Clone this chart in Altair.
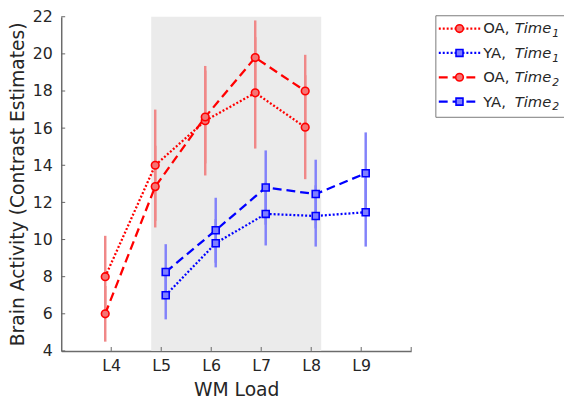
import altair as alt
import pandas as pd

# ---------------- data ----------------
oa_loads = [4, 5, 6, 7, 8]
ya_loads = [5, 6, 7, 8, 9]
oa_t1 = [8.0, 14.0, 16.4, 17.9, 16.05]
oa_t2 = [6.0, 12.85, 16.6, 19.8, 18.0]
ya_t1 = [7.0, 9.8, 11.38, 11.27, 11.47]
ya_t2 = [8.25, 10.5, 12.8, 12.45, 13.57]
oa_t1_err = [2.2, 3.0, 2.95, 3.0, 2.8]
oa_t2_err = [1.5, 2.2, 2.5, 2.0, 1.95]
ya_t1_err = [1.3, 1.3, 1.7, 1.65, 1.85]
ya_t2_err = [1.5, 1.75, 2.0, 1.85, 2.2]
x_ticks = [4, 5, 6, 7, 8, 9]
x_tick_marks = [4, 5, 6, 7, 8, 9, 10]
y_ticks = [4, 6, 8, 10, 12, 14, 16, 18, 20, 22]
shade = {"x0": [4.8], "x1": [8.2], "y0": [4], "y1": [22]}

group_offset = {"OA": -0.12, "YA": 0.09}

rows = []
for group, time, loads, means, errs in [
    ("OA", "1", oa_loads, oa_t1, oa_t1_err),
    ("YA", "1", ya_loads, ya_t1, ya_t1_err),
    ("OA", "2", oa_loads, oa_t2, oa_t2_err),
    ("YA", "2", ya_loads, ya_t2, ya_t2_err),
]:
    for l, m, e in zip(loads, means, errs):
        rows.append(dict(series=f"{group}{time}", group=group, time=time,
                         x=l + group_offset[group], mean=m, lo=m - e, hi=m + e))
df = pd.DataFrame(rows)

# ---------------- styling ----------------
FONT = "DejaVu Sans"
TXT = "#262626"
RED, BLUE = "#ff0000", "#0000ff"
RED_FILL, BLUE_FILL = "#f47474", "#7f7fff"
RED_ERR, BLUE_ERR = "#f08888", "#8282fa"
W, H = 355, 339

X_SC = alt.Scale(domain=[3, 10], nice=False, zero=False)
Y_SC = alt.Scale(domain=[4, 22], nice=False, zero=False)
X_AX = alt.Axis(values=x_ticks, labelExpr="'L' + datum.value", ticks=False, grid=False,
                labelPadding=7, titlePadding=7, labelFontSize=16, titleFontSize=19)
Y_AX = alt.Axis(values=y_ticks, ticks=False, grid=False, labelPadding=9, titlePadding=5,
                labelFontSize=16, titleFontSize=19)
XT = "WM Load"
YT = "Brain Activity (Contrast Estimates)"

is_oa = "datum.group == 'OA'"

shade_layer = alt.Chart(pd.DataFrame(shade)).mark_rect(color="#ebebeb").encode(
    x=alt.X("x0:Q", scale=X_SC, axis=X_AX, title=XT), x2="x1:Q",
    y=alt.Y("y0:Q", scale=Y_SC, axis=Y_AX, title=YT), y2="y1:Q",
)

xtick_layer = alt.Chart(pd.DataFrame({"v": x_tick_marks})).mark_rule(color="#666", strokeWidth=1).encode(
    x=alt.X("v:Q", scale=X_SC, axis=X_AX, title=XT),
    y=alt.value(H), y2=alt.value(H - 4),
)
ytick_layer = alt.Chart(pd.DataFrame({"v": y_ticks})).mark_rule(color="#666", strokeWidth=1).encode(
    y=alt.Y("v:Q", scale=Y_SC, axis=Y_AX, title=YT),
    x=alt.value(0), x2=alt.value(4),
)

err_layer = alt.Chart(df).mark_rule(strokeWidth=2.5).encode(
    x=alt.X("x:Q", scale=X_SC, axis=X_AX, title=XT),
    y=alt.Y("lo:Q", scale=Y_SC, axis=Y_AX, title=YT), y2="hi:Q",
    color=alt.condition(is_oa, alt.value(RED_ERR), alt.value(BLUE_ERR)),
)

line_layer = alt.Chart(df).mark_line(strokeWidth=2.3).encode(
    x=alt.X("x:Q", scale=X_SC, axis=X_AX, title=XT),
    y=alt.Y("mean:Q", scale=Y_SC, axis=Y_AX, title=YT),
    color=alt.Color("group:N", scale=alt.Scale(domain=["OA", "YA"], range=[RED, BLUE]), legend=None),
    strokeDash=alt.StrokeDash("time:N", scale=alt.Scale(domain=["1", "2"], range=[[2, 2], [9, 5]]), legend=None),
    detail="series:N",
)

point_layer = alt.Chart(df).mark_point(filled=True, strokeWidth=1.6, opacity=1).encode(
    x=alt.X("x:Q", scale=X_SC, axis=X_AX, title=XT),
    y=alt.Y("mean:Q", scale=Y_SC, axis=Y_AX, title=YT),
    shape=alt.condition(is_oa, alt.value("circle"), alt.value("square")),
    fill=alt.condition(is_oa, alt.value(RED_FILL), alt.value(BLUE_FILL)),
    stroke=alt.condition(is_oa, alt.value(RED), alt.value(BLUE)),
    size=alt.condition(is_oa, alt.value(60), alt.value(50)),
)

# ---------------- custom legend (outside the plot area) ----------------
one = pd.DataFrame({"k": [0]})
legend_layers = [
    alt.Chart(one).mark_rect(fill="white", stroke="#7a7a7a", strokeWidth=1).encode(
        x=alt.value(380), x2=alt.value(530), y=alt.value(-1), y2=alt.value(102))
]
legend_rows = [("OA", "1"), ("YA", "1"), ("OA", "2"), ("YA", "2")]
for i, (g, t) in enumerate(legend_rows):
    yy = 12 + i * 24.7
    col = RED if g == "OA" else BLUE
    fillc = RED_FILL if g == "OA" else BLUE_FILL
    dash = [2, 2] if t == "1" else [9, 5]
    legend_layers.append(alt.Chart(one).mark_rule(color=col, strokeWidth=2.3, strokeDash=dash).encode(
        x=alt.value(383), x2=alt.value(425), y=alt.value(yy)))
    legend_layers.append(alt.Chart(one).mark_point(
        filled=True, shape="circle" if g == "OA" else "square", fill=fillc, stroke=col,
        strokeWidth=1.6, size=60 if g == "OA" else 50, opacity=1).encode(
        x=alt.value(404), y=alt.value(yy)))
    legend_layers.append(alt.Chart(one).mark_text(
        align="left", baseline="middle", font=FONT, fontSize=15, color=TXT, text=f"{g},").encode(
        x=alt.value(428), y=alt.value(yy)))
    legend_layers.append(alt.Chart(one).mark_text(
        align="left", baseline="middle", font=FONT, fontSize=15, fontStyle="italic", color=TXT,
        text="Time").encode(x=alt.value(460), y=alt.value(yy)))
    legend_layers.append(alt.Chart(one).mark_text(
        align="left", baseline="middle", font=FONT, fontSize=11, fontStyle="italic", color=TXT,
        text=t).encode(x=alt.value(498), y=alt.value(yy + 6)))

chart = alt.layer(
    shade_layer, err_layer, line_layer, point_layer, xtick_layer, ytick_layer, *legend_layers
).properties(
    width=W, height=H,
    autosize=alt.AutoSizeParams(type="none"),
    padding={"left": 54, "top": 6, "right": 155, "bottom": 53},
).configure_view(stroke=None).configure_axis(
    labelFont=FONT, titleFont=FONT, labelColor=TXT, titleColor=TXT,
    titleFontWeight="normal", domainColor="#6b6b6b", domainWidth=1.5,
)

chart.save("out.html", embed_options={"renderer": "svg", "actions": False})
